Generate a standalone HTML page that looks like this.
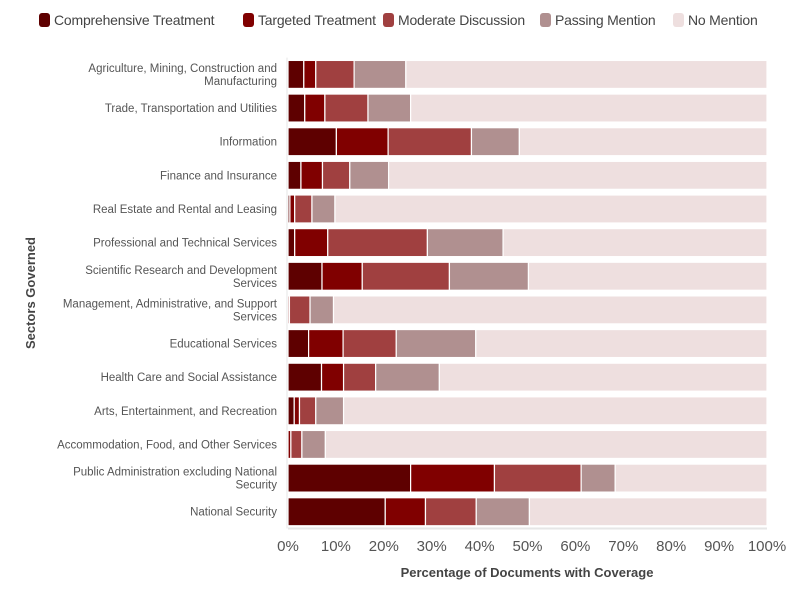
<!DOCTYPE html>
<html><head><meta charset="utf-8"><style>
body{margin:0;background:#fff;font-family:"Liberation Sans",sans-serif}
#c{position:relative;width:800px;height:600px}
.lg{position:absolute;top:12px;font-size:14px;color:#444;white-space:nowrap;letter-spacing:-0.2px}
.lg span{display:inline-block;width:11px;height:14px;border-radius:3px;vertical-align:-2px;margin-right:4px}
</style></head><body>
<div id="c">
<div id="legend"></div>
<svg id="s" width="800" height="600" style="position:absolute;left:0;top:0"></svg>
</div>
<script>
const categories=["Agriculture, Mining, Construction and|Manufacturing","Trade, Transportation and Utilities","Information","Finance and Insurance","Real Estate and Rental and Leasing","Professional and Technical Services","Scientific Research and Development|Services","Management, Administrative, and Support|Services","Educational Services","Health Care and Social Assistance","Arts, Entertainment, and Recreation","Accommodation, Food, and Other Services","Public Administration excluding National|Security","National Security"];
const comprehensive=[3.3,3.5,10.1,2.7,0.4,1.4,7.1,0,4.3,7.0,1.3,0,25.6,20.3];
const targeted=[2.5,4.2,10.8,4.5,1.0,6.9,8.4,0.3,7.2,4.6,1.1,0.6,17.5,8.4];
const moderate=[8.0,9.0,17.4,5.7,3.6,20.8,18.2,4.3,11.1,6.7,3.4,2.3,18.1,10.6];
const passing=[10.8,8.9,10.0,8.1,4.8,15.8,16.5,4.9,16.6,13.3,5.8,4.9,7.1,11.1];
const seriesNames=["Comprehensive Treatment","Targeted Treatment","Moderate Discussion","Passing Mention","No Mention"];
const colors=["#5e0000","#800000","#a04040","#b09090","#eedfdf"];
const ticks=[0,10,20,30,40,50,60,70,80,90,100];
const legendX=[39,243,383,540,673];
const NS="http://www.w3.org/2000/svg";
const s=document.getElementById('s');
const x0=288,x1=767,top0=57.6,pitch=33.64,bh=28;
const X=v=>x0+(x1-x0)*v/100;
const Y=i=>top0+pitch*i+(pitch-bh)/2;
function mk(t,a){const e=document.createElementNS(NS,t);for(const k in a)e.setAttribute(k,a[k]);s.appendChild(e);return e;}
const ax=mk('line',{x1:x0-1,x2:x0-1,y1:top0,y2:top0+pitch*14,stroke:'#e6e6e6','stroke-width':1});

const bx=mk('line',{x1:x0,x2:x1,y1:top0+pitch*14,y2:top0+pitch*14,stroke:'#e6e6e6','stroke-width':2});

categories.forEach((c,i)=>{
  const vals=[comprehensive[i],targeted[i],moderate[i],passing[i]];
  const sum=vals.reduce((a,b)=>a+b,0);vals.push(100-sum);
  let acc=0;
  vals.forEach((v,j)=>{
    if(v<=0)return;
    const r=mk('rect',{x:X(acc),y:Y(i),width:X(acc+v)-X(acc),height:bh,fill:colors[j],stroke:'#fff','stroke-width':1.2});
    
    
    acc+=v;
  });
  const lines=c.split('|');const cy=Y(i)+bh/2;
  lines.forEach((ln,k)=>{
    const t=mk('text',{x:277,y:cy+4+(k-(lines.length-1)/2)*13,'text-anchor':'end','font-size':11.5,fill:'#555','font-family':'Liberation Sans, sans-serif'});
    t.textContent=ln;
    
    
  });
});
ticks.forEach(v=>{
  const t=mk('text',{x:X(v),y:551,'text-anchor':'middle','font-size':15,fill:'#555','font-family':'Liberation Sans, sans-serif'});
  t.textContent=v+'%';
  
  
});
const xt=mk('text',{x:527,y:577,'text-anchor':'middle','font-size':13,'font-weight':'bold',fill:'#444','font-family':'Liberation Sans, sans-serif'});
xt.textContent='Percentage of Documents with Coverage';

const yt=mk('text',{x:0,y:0,'text-anchor':'middle','font-size':13,'font-weight':'bold',fill:'#444',transform:'translate(35,293) rotate(-90)','font-family':'Liberation Sans, sans-serif'});
yt.textContent='Sectors Governed';

const lg=document.getElementById('legend');
seriesNames.forEach((n,j)=>{
  const d=document.createElement('div');d.className='lg';d.style.left=legendX[j]+'px';
  d.innerHTML='<span style="background:'+colors[j]+'"></span>'+n;
  
  
  lg.appendChild(d);
});
</script>
</body></html>
